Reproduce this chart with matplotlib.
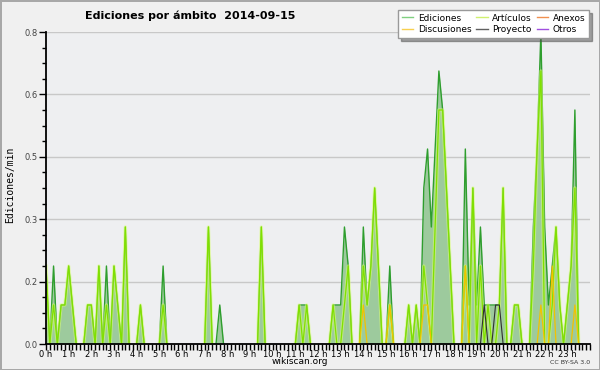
#edits per scope chart, one point per 10 minutes
import numpy as np
import matplotlib.pyplot as plt
from matplotlib.lines import Line2D
from matplotlib.ticker import MultipleLocator

horas = np.arange(144) / 6.0
etiquetas_x = ['%d h' % h for h in range(24)]

# each row = 2 hours (12 x 10 min)
ediciones = [
    0.2, 0, 0.2, 0, 0.1, 0.1, 0.2, 0.1, 0, 0, 0, 0.1,
    0.1, 0, 0.2, 0, 0.2, 0, 0.2, 0.1, 0, 0.3, 0, 0,
    0, 0.1, 0, 0, 0, 0, 0, 0.2, 0, 0, 0, 0,
    0, 0, 0, 0, 0, 0, 0, 0.3, 0, 0, 0.1, 0,
    0, 0, 0, 0, 0, 0, 0, 0, 0, 0.3, 0, 0,
    0, 0, 0, 0, 0, 0, 0, 0.1, 0.1, 0.1, 0, 0,
    0, 0, 0, 0, 0.1, 0.1, 0.1, 0.3, 0.2, 0, 0, 0,
    0.3, 0.1, 0.2, 0.4, 0.2, 0, 0, 0.2, 0, 0, 0, 0,
    0.1, 0, 0.1, 0, 0.4, 0.5, 0.3, 0.5, 0.7, 0.6, 0.4, 0.2,
    0, 0, 0, 0.5, 0.1, 0.4, 0.1, 0.3, 0.1, 0.1, 0.1, 0.1,
    0.1, 0.4, 0, 0, 0.1, 0.1, 0, 0, 0, 0.3, 0.5, 0.8,
    0.3, 0.1, 0.2, 0.3, 0.1, 0, 0.1, 0.2, 0.6, 0, 0, 0,
]
articulos = [
    0.2, 0, 0.1, 0, 0.1, 0.1, 0.2, 0.1, 0, 0, 0, 0.1,
    0.1, 0, 0.2, 0, 0.1, 0, 0.2, 0.1, 0, 0.3, 0, 0,
    0, 0.1, 0, 0, 0, 0, 0, 0.1, 0, 0, 0, 0,
    0, 0, 0, 0, 0, 0, 0, 0.3, 0, 0, 0, 0,
    0, 0, 0, 0, 0, 0, 0, 0, 0, 0.3, 0, 0,
    0, 0, 0, 0, 0, 0, 0, 0.1, 0, 0.1, 0, 0,
    0, 0, 0, 0, 0.1, 0, 0, 0.1, 0.2, 0, 0, 0,
    0.2, 0.1, 0.2, 0.4, 0.2, 0, 0, 0.1, 0, 0, 0, 0,
    0.1, 0, 0.1, 0, 0.2, 0.1, 0, 0.3, 0.6, 0.6, 0.4, 0.2,
    0, 0, 0, 0.2, 0, 0.4, 0, 0.2, 0, 0.1, 0, 0,
    0.1, 0.4, 0, 0, 0.1, 0.1, 0, 0, 0, 0.2, 0.5, 0.7,
    0, 0, 0.1, 0.3, 0.1, 0, 0.1, 0.2, 0.4, 0, 0, 0,
]
discusiones = [
    0, 0, 0, 0, 0, 0, 0, 0, 0, 0, 0, 0,
    0, 0, 0, 0, 0, 0, 0, 0, 0, 0, 0, 0,
    0, 0, 0, 0, 0, 0, 0, 0, 0, 0, 0, 0,
    0, 0, 0, 0, 0, 0, 0, 0, 0, 0, 0, 0,
    0, 0, 0, 0, 0, 0, 0, 0, 0, 0, 0, 0,
    0, 0, 0, 0, 0, 0, 0, 0, 0, 0, 0, 0,
    0, 0, 0, 0, 0, 0, 0, 0, 0, 0, 0, 0,
    0.1, 0, 0, 0, 0, 0, 0, 0.1, 0, 0, 0, 0,
    0, 0, 0, 0, 0.1, 0.1, 0, 0, 0, 0, 0, 0,
    0, 0, 0, 0.2, 0, 0, 0, 0, 0, 0, 0, 0,
    0, 0, 0, 0, 0, 0, 0, 0, 0, 0, 0, 0.1,
    0, 0, 0.2, 0, 0, 0, 0, 0, 0.1, 0, 0, 0,
]
proyecto = [0] * 144
for i in (116, 119, 120):
    proyecto[i] = 0.1
anexos = [0] * 144
otros = [0] * 144

def sin_ceros(v):
    # hide runs of zeros so lines don't sit on the axis
    v = np.array(v, float)
    p = np.r_[0, v[:-1]]
    n = np.r_[v[1:], 0]
    return np.where((v == 0) & (p == 0) & (n == 0), np.nan, v)

fig = plt.figure(figsize=(6, 3.7), dpi=100, facecolor='#f0f0f0',
                 edgecolor='#a8a8a8', linewidth=2)
ax = fig.add_axes([46/600, 26/370, 544/600, 312/370])
ax.set_facecolor('#eeeff1')

ax.fill_between(horas, 0, ediciones, color='#9dca9d', lw=0, zorder=1)
ax.plot(horas, sin_ceros(ediciones), color='#2e9e2e', lw=1.0, zorder=2)
ax.plot(horas, sin_ceros(articulos), color='#d8ff70', lw=2.4, alpha=0.55, zorder=2)
ax.plot(horas, sin_ceros(articulos), color='#80e000', lw=0.9, zorder=2)
ax.plot(horas, sin_ceros(discusiones), color='#f2c200', lw=0.9, zorder=2)
ax.plot(horas, sin_ceros(proyecto), color='#303030', lw=0.8, zorder=2)
ax.plot(horas, sin_ceros(anexos), color='#f08040', lw=0.8, zorder=2)
ax.plot(horas, sin_ceros(otros), color='#9040e0', lw=0.8, zorder=2)

ax.set_xlim(0, 24)
ax.set_ylim(0, 0.8)
ax.set_xticks(range(24), etiquetas_x)
ax.xaxis.set_minor_locator(MultipleLocator(1/6))
yt = np.linspace(0, 0.8, 6)
ax.set_yticks(yt, ['%.1f' % v for v in yt])
ax.yaxis.set_minor_locator(MultipleLocator(0.04))
ax.tick_params(axis='x', which='both', direction='out', length=4, width=1,
               pad=0, labelsize=6)
ax.tick_params(axis='y', which='major', direction='out', length=5, width=1,
               pad=1, labelsize=6, labelcolor='#444444')
ax.tick_params(axis='y', which='minor', direction='out', length=3, width=1)
ax.yaxis.grid(True, color='#c8c8c8', lw=1)
ax.set_axisbelow(True)
for s in ('top', 'right'):
    ax.spines[s].set_visible(False)
for s in ('left', 'bottom'):
    ax.spines[s].set_linewidth(1.3)

fig.text(85/600, 1 - 16/370, 'Ediciones por ámbito  2014-09-15',
         fontsize=8, fontweight='bold', va='center', ha='left')
fig.text(10/600, 1 - 185/370, 'Ediciones/min', rotation=90,
         family='DejaVu Sans Mono', fontsize=7, va='center', ha='center')
fig.text(0.5, 1 - 362/370, 'wikiscan.org', fontsize=6.5, ha='center', va='center')
fig.text(590/600, 1 - 362/370, 'CC BY-SA 3.0', fontsize=4.5, ha='right',
         va='center', color='#333333')

handles = [
    Line2D([], [], color='#80d080', lw=1),
    Line2D([], [], color='#f8d050', lw=1),
    Line2D([], [], color='#d0f070', lw=1),
    Line2D([], [], color='#606060', lw=1),
    Line2D([], [], color='#f09050', lw=1),
    Line2D([], [], color='#a050e0', lw=1),
]
nombres = ['Ediciones', 'Discusiones', 'Artículos', 'Proyecto', 'Anexos', 'Otros']
fig.legend(handles, nombres, loc='upper right', bbox_to_anchor=(589/600, 1 - 10/370),
           ncol=3, fontsize=6.5, frameon=True, fancybox=False, shadow=True,
           facecolor='white', edgecolor='#999999', framealpha=1,
           handlelength=1.3, handletextpad=0.5, columnspacing=0.5,
           labelspacing=0.3, borderpad=0.4, borderaxespad=0)

fig.savefig('out.png', dpi=100)
